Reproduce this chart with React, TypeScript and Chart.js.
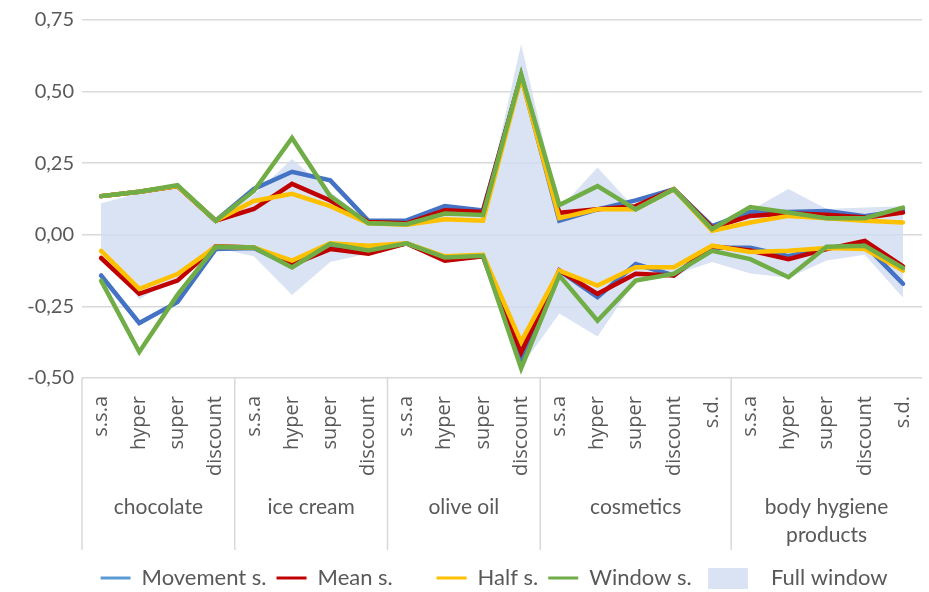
import { useEffect, useRef } from "react"
import { Chart, registerables } from "chart.js"

Chart.register(...registerables)

// sub-categories (x axis) and their groups
const categories = [
  "s.s.a", "hyper", "super", "discount",
  "s.s.a", "hyper", "super", "discount",
  "s.s.a", "hyper", "super", "discount",
  "s.s.a", "hyper", "super", "discount", "s.d.",
  "s.s.a", "hyper", "super", "discount", "s.d.",
]
const groupLabels = [["chocolate"], ["ice cream"], ["olive oil"], ["cosmetics"], ["body hygiene", "products"]]
const groupSizes = [4, 4, 4, 5, 5]

const seriesNames = ["Movement s.", "Mean s.", "Half s.", "Window s.", "Full window"]

const movementUpper = [0.135, 0.15, 0.17, 0.049, 0.16, 0.22, 0.19, 0.049, 0.05, 0.1, 0.085, 0.555, 0.049, 0.089, 0.12, 0.159, 0.03, 0.08, 0.08, 0.083, 0.065, 0.085]
const movementLower = [-0.142, -0.308, -0.235, -0.05, -0.046, -0.11, -0.035, -0.06, -0.03, -0.085, -0.075, -0.44, -0.125, -0.218, -0.102, -0.142, -0.045, -0.045, -0.075, -0.045, -0.035, -0.171]
const meanUpper = [0.135, 0.15, 0.17, 0.049, 0.09, 0.178, 0.12, 0.045, 0.04, 0.086, 0.08, 0.555, 0.077, 0.089, 0.1, 0.159, 0.025, 0.066, 0.075, 0.07, 0.06, 0.078]
const meanLower = [-0.081, -0.206, -0.16, -0.04, -0.044, -0.105, -0.05, -0.066, -0.03, -0.09, -0.075, -0.41, -0.125, -0.206, -0.136, -0.142, -0.04, -0.055, -0.085, -0.05, -0.021, -0.11]
const halfUpper = [0.135, 0.15, 0.17, 0.049, 0.118, 0.143, 0.1, 0.04, 0.035, 0.054, 0.049, 0.55, 0.058, 0.089, 0.089, 0.159, 0.014, 0.043, 0.066, 0.058, 0.049, 0.043]
const halfLower = [-0.056, -0.189, -0.137, -0.042, -0.044, -0.09, -0.03, -0.038, -0.03, -0.075, -0.07, -0.374, -0.125, -0.177, -0.113, -0.113, -0.038, -0.06, -0.056, -0.046, -0.05, -0.125]
const windowUpper = [0.135, 0.15, 0.173, 0.049, 0.153, 0.338, 0.135, 0.04, 0.037, 0.074, 0.069, 0.56, 0.104, 0.17, 0.089, 0.159, 0.02, 0.097, 0.078, 0.058, 0.058, 0.095]
const windowLower = [-0.16, -0.409, -0.21, -0.042, -0.044, -0.114, -0.032, -0.055, -0.03, -0.079, -0.073, -0.466, -0.142, -0.3, -0.16, -0.136, -0.056, -0.085, -0.148, -0.042, -0.038, -0.116]
const fullUpper = [0.11, 0.145, 0.165, 0.045, 0.14, 0.265, 0.15, 0.045, 0.035, 0.085, 0.07, 0.665, 0.09, 0.235, 0.09, 0.155, 0.03, 0.085, 0.16, 0.09, 0.095, 0.1]
const fullLower = [-0.06, -0.225, -0.15, -0.045, -0.075, -0.21, -0.095, -0.065, -0.03, -0.085, -0.075, -0.46, -0.275, -0.355, -0.16, -0.14, -0.095, -0.135, -0.15, -0.09, -0.07, -0.22]

const lineColors = ["#4472C4", "#C00000", "#FFC000", "#70AD47"]
const legendColors = ["#5B9BD5", "#C00000", "#FFC000", "#70AD47"]
// extra spacing so the legend entries sit like the original's
const legendTexts = ["Movement s.", "Mean s.      ", "Half s.", "Window s.  ", "   Full window       "]
const fillColor = "rgba(209, 220, 240, 0.8)"
const textColor = "#595959"
const gridColor = "#D9D9D9"
const font = "Lato, 'Open Sans', sans-serif"

const groupPlugin = {
  id: "groupAxis",
  afterDraw(chart: any) {
    const { ctx, chartArea } = chart
    const x = chart.scales.x
    const lineBottom = chartArea.bottom + 172
    ctx.save()
    ctx.strokeStyle = gridColor
    ctx.lineWidth = 1.5
    ctx.fillStyle = textColor
    ctx.font = `21px ${font}`
    ctx.textAlign = "center"
    ctx.textBaseline = "middle"
    let start = 0
    groupSizes.forEach((size, g) => {
      const end = start + size - 1
      const left = start === 0 ? chartArea.left : (x.getPixelForValue(start - 1) + x.getPixelForValue(start)) / 2
      const right = end === categories.length - 1 ? chartArea.right : (x.getPixelForValue(end) + x.getPixelForValue(end + 1)) / 2
      ctx.beginPath()
      ctx.moveTo(left, chartArea.bottom)
      ctx.lineTo(left, lineBottom)
      ctx.stroke()
      groupLabels[g].forEach((t, i) => {
        ctx.fillText(t, (left + right) / 2, chartArea.bottom + 129 + i * 28)
      })
      start = end + 1
    })
    ctx.restore()
  },
}

export default function App() {
  const chartRef = useRef<HTMLCanvasElement>(null)
  const chartInstance = useRef<Chart | null>(null)

  useEffect(() => {
    document.body.style.margin = "0"
    document.documentElement.style.overflow = "hidden"
    if (!chartRef.current) return
    const ctx = chartRef.current.getContext("2d")
    if (!ctx) return

    if (chartInstance.current) chartInstance.current.destroy()

    // legend swatch for the area series
    const swatch = document.createElement("canvas")
    swatch.width = 40
    swatch.height = 21
    const sctx = swatch.getContext("2d")
    if (sctx) {
      sctx.fillStyle = fillColor
      sctx.fillRect(0, 0, 40, 21)
    }

    const pairs = [
      [movementUpper, movementLower],
      [meanUpper, meanLower],
      [halfUpper, halfLower],
      [windowUpper, windowLower],
    ]

    const lineSets: any[] = []
    pairs.forEach((pair, i) => {
      pair.forEach((values, j) => {
        lineSets.push({
          label: j === 0 ? seriesNames[i] : seriesNames[i] + " (lower)",
          data: values,
          borderColor: lineColors[i],
          backgroundColor: lineColors[i],
          borderWidth: 4.5,
          borderCapStyle: "round",
          pointRadius: 0,
          tension: 0,
          fill: false,
          order: 3 - i,
        })
      })
    })

    const legendItems = [
      ...legendColors.map((c, i) => ({
        text: legendTexts[i],
        fillStyle: c,
        strokeStyle: c,
        lineWidth: 3,
        pointStyle: "line",
        fontColor: textColor,
        hidden: false,
        datasetIndex: i * 2,
      })),
      {
        text: legendTexts[4],
        fillStyle: fillColor,
        strokeStyle: fillColor,
        lineWidth: 0,
        pointStyle: swatch,
        fontColor: textColor,
        hidden: false,
        datasetIndex: 8,
      },
    ]

    chartInstance.current = new Chart(ctx, {
      type: "line",
      data: {
        labels: categories,
        datasets: [
          ...lineSets,
          {
            label: seriesNames[4],
            data: fullUpper,
            borderWidth: 0,
            pointRadius: 0,
            backgroundColor: fillColor,
            fill: "+1",
            tension: 0,
            order: 4,
          },
          {
            label: seriesNames[4] + " (lower)",
            data: fullLower,
            borderWidth: 0,
            pointRadius: 0,
            backgroundColor: fillColor,
            fill: false,
            tension: 0,
            order: 4,
          },
        ],
      },
      options: {
        responsive: true,
        maintainAspectRatio: false,
        animation: false,
        layout: { padding: { top: 18, right: 0, left: 0, bottom: -7 } },
        plugins: {
          filler: { drawTime: "beforeDatasetsDraw" },
          tooltip: { enabled: false },
          legend: {
            position: "bottom",
            align: "end",
            labels: {
              usePointStyle: true,
              pointStyleWidth: 30,
              padding: 10,
              color: textColor,
              font: { family: font, size: 22 },
              generateLabels: () => legendItems as any,
            },
          },
        },
        scales: {
          x: {
            offset: true,
            grid: { display: false, offset: true },
            border: { display: false },
            ticks: {
              autoSkip: false,
              minRotation: 90,
              maxRotation: 90,
              padding: 10,
              color: textColor,
              font: { family: "'Open Sans', sans-serif", size: 20 },
            },
            afterFit: (scale: any) => {
              scale.height = 179
            },
          },
          y: {
            min: -0.5,
            max: 0.75,
            border: { display: false },
            grid: { color: gridColor, lineWidth: 1.5, drawTicks: false },
            ticks: {
              stepSize: 0.25,
              padding: 8,
              color: textColor,
              font: { family: font, size: 20 },
              callback: (value) => Number(value).toFixed(2).replace(".", ","),
            },
            afterFit: (scale: any) => {
              scale.width = 82
            },
          },
        },
      },
      plugins: [groupPlugin],
    })

    return () => {
      if (chartInstance.current) {
        chartInstance.current.destroy()
        chartInstance.current = null
      }
    }
  }, [])

  return (
    <div style={{ width: 937, height: 592, position: "relative" }}>
      <canvas ref={chartRef}></canvas>
    </div>
  )
}
